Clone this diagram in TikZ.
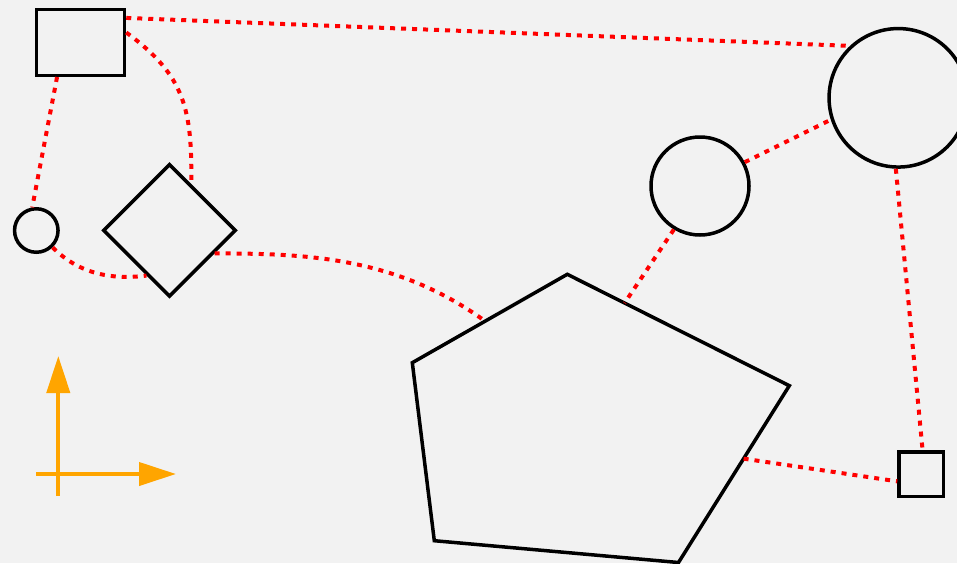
\documentclass[tikz,border=0pt]{standalone}
\usetikzlibrary{shapes.geometric,arrows.meta,calc}
\definecolor{bgc}{HTML}{F2F2F2}
\definecolor{axorange}{HTML}{FFA500}
\definecolor{linkred}{HTML}{FF0000}
\begin{document}
\begin{tikzpicture}[x=1pt,y=1pt,
  outline/.style={draw=black,line width=3.5pt,fill=none,inner sep=0pt},
  link/.style={draw=linkred,line width=4pt,dash pattern=on 5pt off 6pt},
  axisarrow/.style={draw=axorange,line width=4pt,-{Triangle[length=37pt,width=23pt]}}]
\fill[bgc] (0,0) rectangle (957,-563);
\useasboundingbox (0,0) rectangle (957,-563);
% nodes
\node[outline,rectangle,minimum width=88pt,minimum height=66pt] (rect) at (80.5,-42.25) {};
\node[outline,circle,minimum size=43.5pt] (smallc) at (36.3,-230.5) {};
\node[outline,diamond,aspect=1,minimum width=133pt,minimum height=133pt] (dia) at (169.5,-230.4) {};
\node[outline,circle,minimum size=98pt] (medc) at (700,-186) {};
\node[outline,circle,minimum size=138.5pt] (bigc) at (898.3,-97.8) {};
\node[outline,rectangle,minimum width=44.5pt,minimum height=44.5pt] (sq) at (921.3,-474) {};
% pentagon
\coordinate (p1) at (567.3,-274.3);
\coordinate (p2) at (789.3,-385.7);
\coordinate (p3) at (678.5,-562.5);
\coordinate (p4) at (434.3,-540.7);
\coordinate (p5) at (412.3,-362.7);
\draw[outline,line join=miter] (p1) -- (p2) -- (p3) -- (p4) -- (p5) -- cycle;
\coordinate (pa) at ($(p5)!0.47!(p1)$);
\coordinate (pb) at ($(p1)!0.258!(p2)$);
\coordinate (pc) at ($(p2)!0.4125!(p3)$);
% connectors
\draw[link] (rect.28) -- (bigc.133);
\draw[link] (rect.12) .. controls +(59,-43) and +(1,74) .. (dia.65);
\draw[link] (rect.-124) -- (smallc.100);
\draw[link] (smallc.-46) .. controls +(-45:40) and +(187:32) .. (dia.-117);
\draw[link] (dia.-27) .. controls +(90,0) and +(144:110) .. (pa);
\draw[link] (medc.-121) -- (pb);
\draw[link] (medc.28) -- (bigc.198);
\draw[link] (bigc.268) -- (sq.87);
\draw[link] (pc) -- (sq.197);
% axes
\coordinate (ay0) at (58.3,-496);
\coordinate (ay1) at (58.3,-356);
\coordinate (ax0) at (36,-474);
\coordinate (ax1) at (176,-474);
\draw[axisarrow] (ay0) -- (ay1);
\draw[axisarrow] (ax0) -- (ax1);
\end{tikzpicture}
\end{document}
